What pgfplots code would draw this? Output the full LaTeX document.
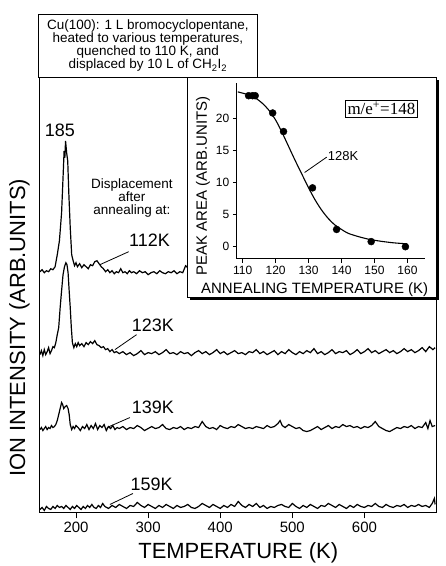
\documentclass[border=0pt]{standalone}
\usepackage{fontspec}
\setmainfont{Liberation Sans}
\newfontfamily\seriffont{Liberation Serif}
\usepackage{pgfplots}
\pgfplotsset{compat=1.18}

\begin{document}
\begin{tikzpicture}[x=1pt,y=1pt]
\path (-40pt,-53pt) rectangle (406pt,513pt);
\begin{axis}[
    at={(0pt,0pt)}, anchor=south west,
    width=397pt, height=435pt, scale only axis,
    xmin=150, xmax=700, ymin=0, ymax=435,
    xtick={200,300,400,500,600}, ytick=\empty,
    tick pos=left, tick align=outside, major tick length=6pt,
    axis line style={line width=1pt},
    tick style={line width=1pt, black},
    ticklabel style={font=\fontsize{15}{15}\selectfont},
    /pgf/number format/assume math mode=true,
    xlabel={TEMPERATURE (K)},
    ylabel={ION INTENSITY (ARB.UNITS)},
    label style={font=\fontsize{22}{22}\selectfont},
    xlabel style={at={(axis description cs:0.5,-0.092)}, anchor=center},
    ylabel style={at={(axis description cs:-0.052,0.425)}, anchor=center},
    clip=false,
]
% 112K (right part hidden behind the inset)
\addplot[black, line width=1.2pt] coordinates {(150,241)(153,243)(156,240)(159,242)(162,241)(165,244)(168,243)(171,246)(174,258)(177,272)(180,300)(182,335)(183.5,362)(184.5,355)(185.5,372)(187,360)(188.5,352)(190,320)(192,285)(194,258)(196,252)(198,247)(200,250)(202,246)(205,249)(208,245)(211,248)(214,246)(217,244)(220,248)(223,247)(226,251)(229,252)(232,249)(235,246)(238,244)(241,241)(244,243)(247,240)(250,242)(253,239)(256,241)(259,240)(262,244)(265,240)(268,241)(271,239)(274,242)(277,240)(280,241)(284,239)(288,242)(292,240)(296,241)(300,238)(304,240)(308,241)(312,239)(316,242)(320,240)(324,239)(328,241)(332,240)(336,242)(340,239)(344,241)(348,240)(352,247)(355,245)(358,241)(362,240)};
% 123K
\addplot[black, line width=1.2pt] coordinates {(150,158)(152,162)(154,157)(156,163)(158,158)(160,161)(162,165)(164,159)(166,162)(168,166)(170,165)(172,170)(174,178)(176,185)(178,205)(180,222)(182,238)(184,246)(186,250)(187.5,248)(189,240)(190.5,222)(192,205)(193.5,185)(195,170)(197,165)(199,169)(201,166)(203,170)(205,167)(208,169)(211,166)(214,170)(217,168)(220,171)(223,169)(226,172)(229,168)(232,167)(235,165)(238,166)(241,163)(244,164)(247,161)(250,163)(253,160)(256,161)(260,159)(265,161)(270,158)(275,160)(280,157)(285,159)(290,162)(295,158)(300,160)(305,159)(310,161)(315,158)(320,160)(325,163)(330,159)(335,160)(340,158)(345,161)(350,159)(355,160)(360,157)(365,160)(370,162)(375,159)(380,161)(385,158)(390,160)(395,163)(400,159)(405,161)(410,158)(415,160)(420,162)(425,159)(430,160)(435,158)(440,161)(445,160)(450,163)(455,159)(460,161)(465,158)(470,160)(475,162)(480,158)(485,161)(490,159)(495,163)(500,160)(505,158)(510,161)(515,159)(520,162)(525,160)(530,164)(535,159)(540,161)(545,158)(550,160)(555,163)(560,159)(565,161)(570,160)(575,162)(580,158)(585,160)(590,163)(595,159)(600,161)(605,164)(610,160)(615,162)(620,159)(625,161)(630,163)(635,160)(640,162)(645,159)(650,161)(655,164)(660,161)(665,163)(670,160)(675,162)(680,165)(685,161)(690,166)(695,163)(698,165)};
% 139K
\addplot[black, line width=1.2pt] coordinates {(150,83)(152,85)(154,82)(156,84)(158,86)(160,83)(162,85)(164,84)(166,87)(168,85)(170,86)(172,88)(174,92)(176,98)(178,104)(180,110)(181.5,108)(183,104)(185,106)(187,107)(189,104)(190.5,98)(192,88)(194,83)(196,86)(198,84)(200,87)(203,85)(206,82)(209,86)(212,84)(215,88)(218,83)(221,87)(224,84)(227,89)(230,83)(233,87)(236,85)(239,88)(242,82)(245,86)(248,84)(251,87)(254,83)(257,85)(260,84)(265,86)(270,83)(275,85)(280,84)(285,87)(290,85)(295,82)(300,84)(305,86)(310,84)(315,85)(320,88)(325,84)(330,83)(335,85)(340,84)(345,86)(350,83)(355,85)(360,84)(365,86)(370,85)(375,91)(380,86)(385,84)(390,85)(395,83)(400,87)(405,85)(410,84)(415,86)(420,85)(425,88)(430,86)(435,84)(440,85)(445,84)(450,86)(455,85)(460,84)(465,87)(470,85)(475,86)(480,89)(483,92)(486,87)(490,85)(495,88)(500,86)(505,84)(510,85)(515,82)(520,81)(525,82)(530,84)(535,86)(540,83)(545,85)(550,87)(555,84)(560,86)(565,85)(570,88)(575,86)(580,87)(585,85)(590,86)(595,84)(600,86)(605,85)(610,87)(615,91)(620,86)(625,84)(630,82)(635,81)(640,83)(645,85)(650,84)(655,86)(660,85)(665,87)(670,84)(675,86)(680,85)(685,90)(688,84)(691,92)(694,86)(698,87)};
% 159K
\addplot[black, line width=1.2pt] coordinates {(150,3)(153,5)(156,2)(159,6)(162,4)(165,3)(168,6)(171,4)(174,7)(177,5)(180,6)(183,4)(186,7)(189,5)(192,3)(195,6)(198,4)(201,7)(204,5)(207,3)(210,6)(213,4)(216,7)(219,5)(222,8)(225,5)(228,4)(231,7)(234,5)(237,9)(240,6)(245,4)(250,7)(255,5)(260,8)(265,6)(270,4)(275,7)(280,6)(285,10)(290,7)(295,5)(300,8)(305,6)(310,4)(315,7)(320,5)(325,8)(330,6)(335,4)(340,7)(345,5)(350,6)(355,8)(360,5)(365,4)(370,6)(375,9)(380,7)(385,5)(390,8)(395,6)(400,4)(405,7)(410,5)(415,8)(420,6)(425,11)(430,7)(435,5)(440,8)(445,6)(450,9)(455,5)(460,7)(465,4)(470,6)(475,5)(480,7)(485,8)(490,6)(495,5)(500,9)(505,6)(510,4)(515,7)(520,5)(525,8)(530,6)(535,4)(540,7)(545,6)(550,9)(555,7)(560,5)(565,8)(570,6)(575,4)(580,7)(585,5)(590,8)(595,6)(600,5)(605,7)(610,6)(615,9)(620,6)(625,5)(630,8)(635,6)(640,5)(645,7)(650,6)(655,8)(660,5)(665,7)(670,6)(675,8)(680,6)(685,7)(690,5)(694,9)(697,14)(698,8)};

\node[font=\fontsize{18}{18}\selectfont] at (axis cs:177.7,383) {185};
\node[font=\fontsize{13.5}{13}\selectfont, align=center] at (axis cs:277.5,315) {Displacement\\after\\annealing at:};
\tikzset{lab/.style={font=\fontsize{18}{18}\selectfont}}
\node[lab] at (axis cs:302,273) {112K};
\draw[line width=0.8pt] (axis cs:273,261) -- (axis cs:233,248);
\node[lab] at (axis cs:306.6,187) {123K};
\draw[line width=0.8pt] (axis cs:284,178) -- (axis cs:254,163);
\node[lab] at (axis cs:306.6,105) {139K};
\draw[line width=0.8pt] (axis cs:274.7,95) -- (axis cs:243,85);
\node[lab] at (axis cs:305,28) {159K};
\draw[line width=0.8pt] (axis cs:279,19) -- (axis cs:247,8);
\end{axis}

% title box
\node[draw, line width=1pt, fill=white, align=center, inner sep=2pt,
      minimum width=219pt, minimum height=63pt, anchor=south west,
      font={\fontsize{13.5}{13}\selectfont}]
      at (-2pt,435pt) {Cu(100): 1 L bromocyclopentane,\\heated to various temperatures,\\quenched to 110 K, and\\displaced by 10 L of CH\textsubscript{2}I\textsubscript{2}};

% inset frame
\fill[black] (150pt,213pt) rectangle (399.5pt,433pt);
\draw[line width=1pt, fill=white] (148pt,215pt) rectangle (397pt,435pt);

\begin{axis}[
    at={(197pt,254pt)}, anchor=south west,
    width=188pt, height=176pt, scale only axis,
    xmin=108.2, xmax=165.2, ymin=-1.875, ymax=25.6,
    axis x line*=bottom, axis y line*=left,
    xtick={110,120,...,160}, ytick={0,5,...,20},
    tick align=outside, major tick length=4pt,
    axis line style={line width=1pt},
    tick style={line width=1pt, black},
    ticklabel style={font=\fontsize{12}{12}\selectfont},
    /pgf/number format/assume math mode=true,
    xlabel={ANNEALING TEMPERATURE (K)},
    ylabel={PEAK AREA (ARB.UNITS)},
    label style={font=\fontsize{15}{15}\selectfont},
    xlabel style={at={(axis description cs:0.415,-0.176)}, anchor=center},
    ylabel style={at={(axis description cs:-0.18,0.415)}, anchor=center},
    clip=false,
]
\addplot[smooth, line width=1.1pt, black, no marks] coordinates {(108.5,24.2)(110,24.0)(112,23.7)(114,23.2)(116,22.4)(118,21.3)(120,19.8)(122,17.8)(124,15.6)(126,13.4)(128,11.3)(130,9.2)(132,7.3)(134,5.7)(136,4.4)(138,3.4)(140,2.7)(142,2.1)(145,1.6)(148,1.2)(152,0.85)(156,0.6)(160,0.45)};
\addplot[only marks, mark=*, mark size=3.5pt, black] coordinates {(111.8,23.6)(113.0,23.6)(113.8,23.6)(119.1,20.9)(122.4,18.0)(131.2,9.2)(138.5,2.7)(149,0.8)(159.4,0.0)};
\draw[line width=0.8pt] (axis cs:128.8,11.6) -- (axis cs:135.5,14.0);
\node[anchor=west, inner sep=1pt, font=\fontsize{13}{13}\selectfont] at (axis cs:135.5,14.1) {128K};
\node[draw, line width=0.8pt, inner sep=2pt, font=\seriffont\fontsize{17}{17}\selectfont] at (axis cs:152.1,21.6) {m/e\textsuperscript{+}=148};
\end{axis}
\end{tikzpicture}
\end{document}
